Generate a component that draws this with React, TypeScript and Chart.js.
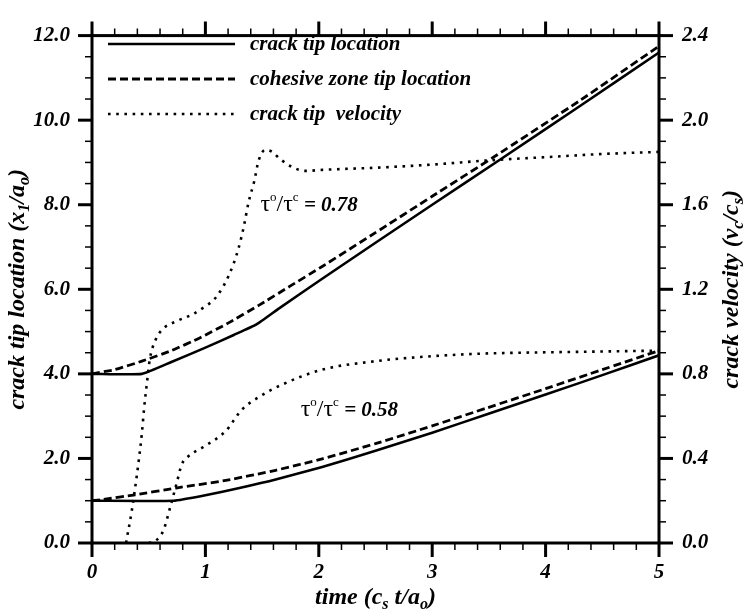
import React, { useEffect, useRef } from "react";
import { Chart, registerables } from "chart.js";

Chart.register(...registerables);

// ---- axis ticks ----
const TIME_TICKS = [0, 1, 2, 3, 4, 5];
const LOC_TICKS = [0, 2, 4, 6, 8, 10, 12];
const VEL_TICKS = [0, 0.4, 0.8, 1.2, 1.6, 2.0, 2.4];

// ---- tau_o / tau_c = 0.78 ----
const T_TIP_078 = [0, 0.44, 0.7, 1.0, 1.25, 1.45, 1.65, 2.03, 2.5, 3.0, 3.6, 4.3, 5.0];
const X_TIP_078 = [4.0, 4.0, 4.28, 4.62, 4.92, 5.17, 5.55, 6.25, 7.1, 8.0, 9.07, 10.33, 11.6];
const T_CZ_078 = [0, 0.2, 0.44, 0.7, 0.95, 1.2, 1.47, 1.75, 2.03, 2.5, 3.0, 3.55, 4.3, 5.0];
const X_CZ_078 = [4.0, 4.1, 4.3, 4.55, 4.85, 5.2, 5.62, 6.08, 6.54, 7.34, 8.2, 9.14, 10.46, 11.75];
const T_VEL_078 = [0.3, 0.35, 0.38, 0.41, 0.44, 0.46, 0.485, 0.51, 0.56, 0.62, 0.75, 0.88, 1.0, 1.09, 1.21, 1.29, 1.34, 1.38, 1.43, 1.47, 1.53, 1.59, 1.65, 1.76, 1.88, 2.03, 2.5, 3.0, 3.5, 4.0, 4.5, 5.0];
const V_VEL_078 = [0.0, 0.15, 0.26, 0.38, 0.52, 0.64, 0.76, 0.87, 0.96, 1.01, 1.05, 1.08, 1.12, 1.16, 1.27, 1.39, 1.5, 1.61, 1.71, 1.81, 1.86, 1.85, 1.82, 1.78, 1.76, 1.765, 1.775, 1.79, 1.81, 1.825, 1.84, 1.85];

// ---- tau_o / tau_c = 0.58 ----
const T_TIP_058 = [0, 0.72, 1.0, 1.3, 1.62, 2.03, 2.5, 3.0, 3.49, 4.0, 4.5, 5.0];
const X_TIP_058 = [1.0, 1.0, 1.13, 1.3, 1.5, 1.8, 2.18, 2.61, 3.05, 3.51, 3.97, 4.44];
const T_CZ_058 = [0, 0.1, 0.38, 0.74, 1.18, 1.62, 2.03, 2.5, 3.0, 3.49, 4.0, 4.5, 5.0];
const X_CZ_058 = [1.0, 1.03, 1.14, 1.3, 1.48, 1.72, 1.99, 2.35, 2.77, 3.2, 3.65, 4.1, 4.55];
const T_VEL_058 = [0.5, 0.56, 0.63, 0.69, 0.75, 0.79, 0.85, 1.0, 1.18, 1.32, 1.47, 1.68, 2.03, 2.5, 2.9, 3.4, 3.78, 4.4, 5.0];
const V_VEL_058 = [0.0, 0.01, 0.06, 0.17, 0.29, 0.37, 0.41, 0.46, 0.53, 0.63, 0.69, 0.75, 0.82, 0.86, 0.88, 0.895, 0.9, 0.905, 0.91];

// stress-ratio labels and their anchor (time, location)
const RATIO_LABELS = ["0.78", "0.58"];
const RATIO_ANCHOR_T = [1.485, 1.84];
const RATIO_ANCHOR_X = [7.86, 3.01];

const SERIF = "'Liberation Serif', 'Times New Roman', serif";
const BI = (size: number) => `italic bold ${size}px ${SERIF}`;
const REG = (size: number) => `${size}px ${SERIF}`;

const SOLID = { borderWidth: 2.6, borderDash: [] as number[] };
const DASHED = { borderWidth: 2.8, borderDash: [8, 4] };
const DOTTED = { borderWidth: 2.6, borderDash: [2.6, 5.6] };

type Run = { text: string; font: string; dy?: number };

function drawRuns(ctx: CanvasRenderingContext2D, runs: Run[], x: number, y: number, align: "left" | "center") {
  ctx.textAlign = "left";
  ctx.textBaseline = "alphabetic";
  let w = 0;
  for (const r of runs) {
    ctx.font = r.font;
    w += ctx.measureText(r.text).width;
  }
  let cx = align === "center" ? x - w / 2 : x;
  for (const r of runs) {
    ctx.font = r.font;
    ctx.fillText(r.text, cx, y + (r.dy || 0));
    cx += ctx.measureText(r.text).width;
  }
}

const pts = (xs: number[], ys: number[]) => xs.map((x, i) => ({ x, y: ys[i] }));

const TITLE = 24;
const SUB = 16;

const decorations = {
  id: "decorations",
  afterDraw(chart: any) {
    const { ctx, chartArea: a, scales } = chart;
    const sx = scales.x;
    const sy = scales.y;
    const sv = scales.y2;
    ctx.save();
    ctx.strokeStyle = "#000";
    ctx.fillStyle = "#000";

    // frame
    ctx.lineWidth = 3;
    ctx.strokeRect(a.left, a.top, a.right - a.left, a.bottom - a.top);

    // time ticks (bottom and top)
    for (let i = 0; i <= 25; i++) {
      const v = i * 0.2;
      const major = i % 5 === 0;
      const len = major ? 14 : 7;
      ctx.lineWidth = major ? 3 : 1.5;
      const px = sx.getPixelForValue(v);
      ctx.beginPath();
      ctx.moveTo(px, a.bottom);
      ctx.lineTo(px, a.bottom + len);
      ctx.moveTo(px, a.top);
      ctx.lineTo(px, a.top - len);
      ctx.stroke();
    }
    // location ticks (left)
    for (let i = 0; i <= 24; i++) {
      const v = i * 0.5;
      const major = i % 4 === 0;
      const len = major ? 14 : 7;
      ctx.lineWidth = major ? 3 : 1.5;
      const py = sy.getPixelForValue(v);
      ctx.beginPath();
      ctx.moveTo(a.left, py);
      ctx.lineTo(a.left - len, py);
      ctx.stroke();
    }
    // velocity ticks (right)
    for (let i = 0; i <= 24; i++) {
      const v = i * 0.1;
      const major = i % 4 === 0;
      const len = major ? 14 : 7;
      ctx.lineWidth = major ? 3 : 1.5;
      const py = sv.getPixelForValue(v);
      ctx.beginPath();
      ctx.moveTo(a.right, py);
      ctx.lineTo(a.right + len, py);
      ctx.stroke();
    }

    // axis titles
    const midY = (a.top + a.bottom) / 2;
    const midX = (a.left + a.right) / 2;
    ctx.save();
    ctx.translate(24, midY);
    ctx.rotate(-Math.PI / 2);
    drawRuns(ctx, [
      { text: "crack tip location (x", font: BI(TITLE) },
      { text: "1", font: BI(SUB), dy: 5 },
      { text: "/a", font: BI(TITLE) },
      { text: "o", font: BI(SUB), dy: 5 },
      { text: ")", font: BI(TITLE) },
    ], 0, 0, "center");
    ctx.restore();

    ctx.save();
    ctx.translate(738, midY);
    ctx.rotate(-Math.PI / 2);
    drawRuns(ctx, [
      { text: "crack velocity (v", font: BI(TITLE) },
      { text: "c", font: BI(SUB), dy: 5 },
      { text: "/c", font: BI(TITLE) },
      { text: "s", font: BI(SUB), dy: 5 },
      { text: ")", font: BI(TITLE) },
    ], 0, 0, "center");
    ctx.restore();

    drawRuns(ctx, [
      { text: "time (c", font: BI(TITLE) },
      { text: "s", font: BI(SUB), dy: 5 },
      { text: " t/a", font: BI(TITLE) },
      { text: "o", font: BI(SUB), dy: 5 },
      { text: ")", font: BI(TITLE) },
    ], midX, 604, "center");

    // legend
    const legendRows = [44, 79, 114];
    chart.data.datasets.slice(0, 3).forEach((ds: any, i: number) => {
      const y = legendRows[i];
      ctx.lineWidth = ds.borderWidth;
      ctx.setLineDash(ds.borderDash);
      ctx.beginPath();
      ctx.moveTo(108, y);
      ctx.lineTo(235, y);
      ctx.stroke();
      ctx.setLineDash([]);
      drawRuns(ctx, [{ text: ds.label, font: BI(21) }], 250, y + 6, "left");
    });

    // stress-ratio labels
    RATIO_LABELS.forEach((lab, i) => {
      const px = sx.getPixelForValue(RATIO_ANCHOR_T[i]);
      const py = sy.getPixelForValue(RATIO_ANCHOR_X[i]);
      drawRuns(ctx, [
        { text: "\u03c4", font: REG(24) },
        { text: "o", font: REG(13), dy: -10 },
        { text: "/\u03c4", font: REG(24) },
        { text: "c", font: REG(13), dy: -10 },
        { text: " = " + lab, font: BI(21) },
      ], px, py, "left");
    });
    ctx.restore();
  },
};

export default function App() {
  const ref = useRef<HTMLCanvasElement | null>(null);

  useEffect(() => {
    if (!ref.current) return;
    // location curves keep their kinks (light tension); velocity curves are smooth
    const line = (label: string, xs: number[], ys: number[], style: any, axis: string, smooth: boolean) => ({
      label,
      data: pts(xs, ys),
      yAxisID: axis,
      borderColor: "#000",
      backgroundColor: "#000",
      borderCapStyle: "butt",
      borderJoinStyle: "round",
      pointRadius: 0,
      fill: false,
      tension: smooth ? 0 : 0.15,
      cubicInterpolationMode: smooth ? "monotone" : "default",
      ...style,
    });
    const tickFont = { family: SERIF, size: 21, weight: "bold", style: "italic" };
    const chart = new Chart(ref.current, {
      type: "line",
      data: {
        datasets: [
          line("crack tip location", T_TIP_078, X_TIP_078, SOLID, "y", false),
          line("cohesive zone tip location", T_CZ_078, X_CZ_078, DASHED, "y", false),
          line("crack tip  velocity", T_VEL_078, V_VEL_078, DOTTED, "y2", true),
          line("crack tip location", T_TIP_058, X_TIP_058, SOLID, "y", false),
          line("cohesive zone tip location", T_CZ_058, X_CZ_058, DASHED, "y", false),
          line("crack tip  velocity", T_VEL_058, V_VEL_058, DOTTED, "y2", true),
        ],
      },
      options: {
        animation: false,
        responsive: false,
        devicePixelRatio: 1,
        layout: { padding: { top: 21, left: 0, right: 0, bottom: 0 } },
        plugins: { legend: { display: false }, tooltip: { enabled: false } },
        scales: {
          x: {
            type: "linear",
            position: "bottom",
            min: 0,
            max: 5,
            afterBuildTicks: (s: any) => { s.ticks = TIME_TICKS.map((value) => ({ value })); },
            afterFit: (s: any) => { s.height = 73; },
            grid: { display: false, drawTicks: false, tickLength: 0 },
            border: { display: false },
            ticks: { font: tickFont, color: "#000", padding: 17, maxRotation: 0, callback: (v: any) => String(v) },
          },
          y: {
            type: "linear",
            position: "left",
            min: 0,
            max: 12,
            afterBuildTicks: (s: any) => { s.ticks = LOC_TICKS.map((value) => ({ value })); },
            afterFit: (s: any) => { s.width = 92; },
            grid: { display: false, drawTicks: false, tickLength: 0 },
            border: { display: false },
            ticks: { font: tickFont, color: "#000", padding: 22, callback: (v: any) => Number(v).toFixed(1) },
          },
          y2: {
            type: "linear",
            position: "right",
            min: 0,
            max: 2.4,
            afterBuildTicks: (s: any) => { s.ticks = VEL_TICKS.map((value) => ({ value })); },
            afterFit: (s: any) => { s.width = 85; },
            grid: { display: false, drawTicks: false, tickLength: 0 },
            border: { display: false },
            ticks: { font: tickFont, color: "#000", padding: 23, callback: (v: any) => Number(v).toFixed(1) },
          },
        },
      },
      plugins: [decorations],
    } as any);
    return () => chart.destroy();
  }, []);

  return (
    <div style={{ position: "absolute", left: 0, top: 0, width: 744, height: 616, background: "#fff" }}>
      <canvas ref={ref} width={744} height={616} style={{ display: "block" }} />
    </div>
  );
}
